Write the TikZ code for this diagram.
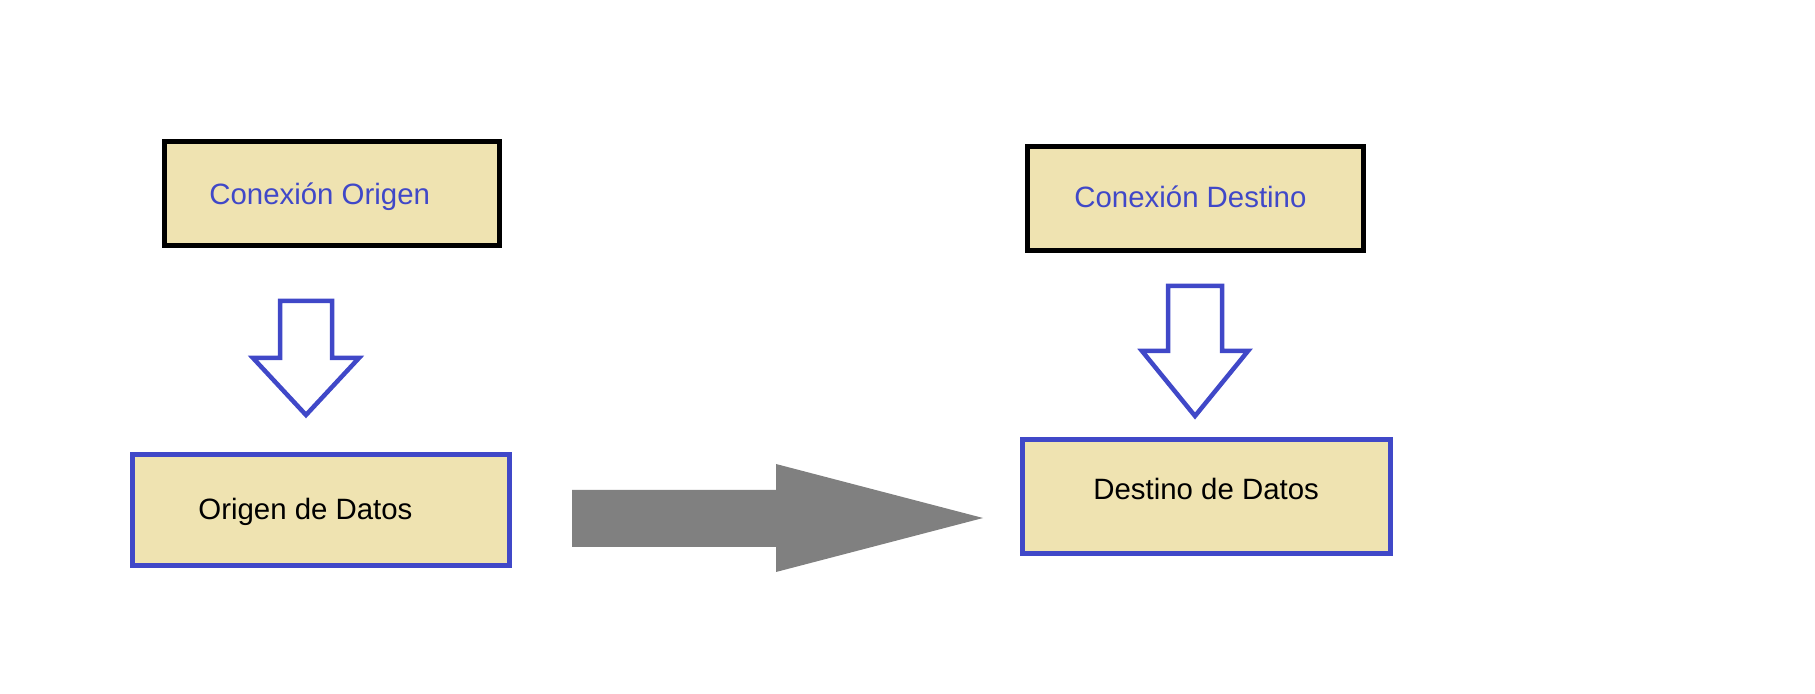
\documentclass[tikz,border=0pt]{standalone}
\usepackage{fontspec}
\setmainfont{Liberation Sans}
\definecolor{boxfill}{RGB}{239,227,177}
\definecolor{boxblue}{RGB}{64,72,200}
\definecolor{arrowgrey}{RGB}{128,128,128}
\tikzset{
  conbox/.style={draw=black, fill=boxfill, line width=2.5pt, inner sep=0pt},
  databox/.style={draw=boxblue, fill=boxfill, line width=2.5pt, inner sep=0pt},
  bluetext/.style={text=boxblue, font=\fontsize{14.7pt}{18pt}\selectfont, anchor=base west, inner sep=0pt},
  blacktext/.style={text=black, font=\fontsize{14.7pt}{18pt}\selectfont, anchor=base west, inner sep=0pt},
  hollowarrow/.style={draw=boxblue, fill=white, line width=2.25pt, line join=miter},
  bigarrow/.style={fill=arrowgrey, draw=none}
}
\begin{document}
\begin{tikzpicture}[x=0.5pt, y=-0.5pt]
\useasboundingbox (0,0) rectangle (1815,694);
% boxes
\node[conbox, minimum width=335*0.5pt, minimum height=104*0.5pt] (co) at (332,193.5) {};
\node[conbox, minimum width=336*0.5pt, minimum height=104*0.5pt] (cd) at (1195.5,198.5) {};
\node[databox, minimum width=377*0.5pt, minimum height=111*0.5pt] (od) at (321,510) {};
\node[databox, minimum width=368*0.5pt, minimum height=114*0.5pt] (dd) at (1206.5,496.5) {};
% texts
\node[bluetext] (tco) at (209,205) {Conexión Origen};
\node[bluetext] (tcd) at (1074,208) {Conexión Destino};
\node[blacktext] (tod) at (198,520) {Origen de Datos};
\node[blacktext] (tdd) at (1093,500) {Destino de Datos};
% hollow down arrows
\draw[hollowarrow] (280,301) -- (332,301) -- (332,358) -- (359,358) -- (306,415) -- (253,358) -- (280,358) -- cycle;
\draw[hollowarrow] (1168,286) -- (1222,286) -- (1222,351) -- (1248,351) -- (1195,416) -- (1142,351) -- (1168,351) -- cycle;
% big grey arrow
\fill[bigarrow] (572,490) -- (776,490) -- (776,464) -- (983,518) -- (776,572) -- (776,547) -- (572,547) -- cycle;
\end{tikzpicture}
\end{document}
